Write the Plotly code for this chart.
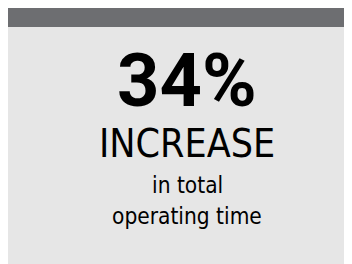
import plotly.graph_objects as go

W, H = 352, 264
OFF = 8  # page body margin offset of the figure

# Data / text content
stat_values = [34]
stat_units = ["%"]
headline = ["INCREASE"]
detail_lines = ["in total", "operating time"]

bar_color = "#6d6e71"
card_color = "#e6e6e6"

def py(y_ref):
    return 1 - (y_ref - OFF) / H

def px(x_ref):
    return (x_ref - OFF) / W

fig = go.Figure()
fig.update_layout(
    width=W, height=H,
    margin=dict(l=0, r=0, t=0, b=0),
    paper_bgcolor="white", plot_bgcolor="white",
    xaxis=dict(visible=False, range=[0, 1]),
    yaxis=dict(visible=False, range=[0, 1]),
    showlegend=False,
)

fig.add_shape(type="rect", xref="paper", yref="paper",
              x0=0, x1=1.05, y0=-0.05, y1=py(8),
              fillcolor=card_color, line=dict(width=0), layer="below")
fig.add_shape(type="rect", xref="paper", yref="paper",
              x0=0, x1=1.05, y0=py(27), y1=py(8),
              fillcolor=bar_color, line=dict(width=0), layer="below")

bold_font = "Roboto, DejaVu Sans Condensed, sans-serif"
cond = "DejaVu Sans Condensed, sans-serif"
cx = px(187)

fig.add_annotation(x=cx, y=py(80), xref="paper", yref="paper",
                   text=f"<b>{stat_values[0]}{stat_units[0]}</b>", showarrow=False,
                   font=dict(family=bold_font, size=74, color="black"),
                   xanchor="center", yanchor="middle")
fig.add_annotation(x=cx, y=py(143), xref="paper", yref="paper",
                   text=headline[0], showarrow=False,
                   font=dict(family=cond, size=39, color="black"),
                   xanchor="center", yanchor="middle")
for line, base in zip(detail_lines, [193, 224]):
    fig.add_annotation(x=cx, y=py(base - 0.346 * 22.5), xref="paper", yref="paper",
                       text=line, showarrow=False,
                       font=dict(family=cond, size=22.5, color="black"),
                       xanchor="center", yanchor="middle")

fig.write_html("out.html")
